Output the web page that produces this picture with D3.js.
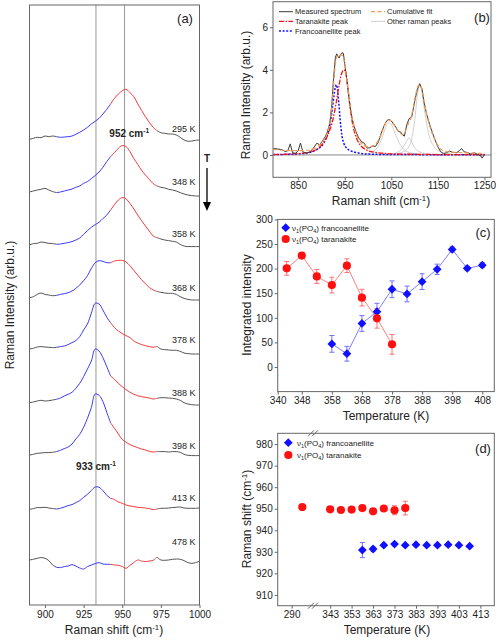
<!DOCTYPE html>
<html>
<head>
<meta charset="utf-8">
<script src="https://cdn.jsdelivr.net/npm/d3@7"></script>
<style>
  body { margin: 0; background: #fff; }
  svg text { font-family: "Liberation Sans", Arial, sans-serif; fill: #222; }
</style>
</head>
<body>
<div id="vis"></div>
<script>
// ---------- panel (a): stacked spectra ----------
const shiftA = [890,892.5,895,897.5,900,902.5,905,907.5,910,912.5,915,917.5,920,922.5,925,927.5,930,932.5,935,937.5,
  940,942.5,945,947.5,950,952.5,955,957.5,960,962.5,965,967.5,970,972.5,975,977.5,980,982.5,985,987.5,990,992.5,995,997.5,1000];
const spec295 = [0.7,1.7,2.7,2.3,4,3.3,4,3.3,2.7,3,3.3,4,5.7,7.7,10,12.7,16,18.7,21.7,26,30.7,36,41.7,46,49.3,50.7,47.3,43.3,36.3,29.7,23.3,17.7,12.7,9.3,7.3,6.7,6,6,5,2.7,0,-1.3,-1,-0.3,0];
const spec348 = [1.3,2.3,3.3,4,5,3.3,1.7,0.7,1.3,2.3,3.3,4.3,6,7.3,10,11.7,14.7,17.7,21.3,26,31.7,36.7,40.7,45,47.7,46.7,41.7,34.7,29,23,18.3,14,9.7,7.3,6,5.3,4,3.3,2.3,0.7,-0.7,-1.7,-2.3,-2.7,-2.7];
const spec358 = [-0.7,0.7,1,2.3,1.7,1,0.7,0,0.3,1,1.7,2.7,4.3,6.3,10,13.7,17,19.7,22,25.7,29.3,34.3,39.7,44.3,46.7,45.3,41,35.3,29.3,23.7,18.3,13.3,8.3,6.7,5.3,4.3,3.7,3,2.3,0,-1.7,-2.3,-2.3,-2.3,-2.3];
const spec368 = [-1,0,2.3,3.7,2.3,1.7,1,1.3,2.3,3,4,5.7,8.3,11.7,16,21,28.3,34,36,35.3,34,34,35.7,36.3,36.3,34.7,31,26.3,21.7,17,13,9.3,6.7,5.3,4.3,3.7,3.3,3.3,2.3,0,-1.7,-2.7,-3.3,-3.3,-3.3];
const spec378 = [-0.7,0,1.3,1.7,1.3,1,0.7,1,1.7,2.3,3.7,5.7,7.7,11.7,18.3,24.3,35,45,44.3,38.3,31,25.7,20.7,17.3,14.7,12.7,10.7,7.3,5.3,3.7,2.7,1.7,1,2,-0.7,-1.3,-1.7,-2,-2,-3,-4.7,-5.3,-5.7,-5.7,-5.7];
const spec388 = [-1.7,-1,0,0.7,0,0.3,1,1.7,3,5,6.7,8.7,12.7,17.7,24.3,32,40,52,50,43.3,34.3,25,21.7,17.7,14.3,11.3,8.7,6.7,5.3,4.3,3.7,3,2,2.7,3.3,3.3,3,2.7,2,0.7,-1.7,-3,-3.7,-4,-4];
const spec398 = [-1.7,-1,0,0.3,0.7,0.7,1,1.7,3,4.7,6.3,9.3,14.3,19,26,35,45.7,59.3,58,51.7,41,30.3,25,19.3,14,11,8.7,7,5.7,4.3,3.3,2,1.3,1.7,1.7,1.7,1.3,1.7,1.7,1,-1,-2,-2.3,-2.3,-2.3];
const spec413 = [-1,-0.3,0.7,0.7,1,0.3,-0.3,-0.7,0,1.3,2.7,3.7,5.7,7.7,11,14,17.7,21.3,21,17.7,13,10,8.7,6.3,5,3.3,2.3,1.7,1,0.7,0.3,-0.3,-1.3,-0.7,0,0,0.3,0.7,1,1.3,0.3,0,0,0,0.3];
const spec478 = [3.3,4,5,5.7,5,2.7,-1.7,-4,-4.3,-3.3,-2.7,-1.3,-2.7,-4.7,-5.7,-3.3,-1.7,-0.3,0.7,-0.7,-1,-1,-1.7,-2,-3.3,-5,-2,0.7,3.3,2.3,1.7,2.3,3,6.3,3.3,3,3.3,4,4.3,4,2.7,0.7,0,0.7,2];
const tempLabelsA = ["295 K","348 K","358 K","368 K","378 K","388 K","398 K","413 K","478 K"];
const offsetsA = [465, 411.7, 360.7, 308.3, 256.7, 204, 151.7, 96.7, 41.7];
const labelLevelA = [475.7, 423.3, 371, 317.3, 265, 212.3, 159, 106.7, 63.3];
const peakLinesA = [933, 951.5];
const segBreaksA = [890, 907.5, 942.5, 972.5, 1000];

// ---------- panel (b): fitted spectrum ----------
const measuredB = [[797,0.31],[805,0.28],[815,0.25],[822,0.16],[828,0.2],[833,0.52],[838,0.1],[845,0.08],[850,0.2],[855,0.56],
  [860,0.15],[868,0.08],[875,0.14],[882,0.3],[890,0.55],[896,0.48],[902,0.65],[908,0.85],[913,1.1],[918,1.5],[922,2.3],[926,3.6],
  [930,4.6],[933,4.75],[936,4.62],[938,4.55],[941,4.72],[944,4.8],[947,4.78],[950,4.3],[954,3.6],[958,2.9],[962,2.2],[966,1.7],
  [970,1.35],[975,1.05],[980,0.8],[986,0.63],[992,0.55],[998,0.32],[1004,0.34],[1010,0.42],[1016,0.4],[1022,0.6],[1028,1.0],
  [1034,1.35],[1040,1.6],[1045,1.68],[1050,1.6],[1055,1.45],[1060,1.3],[1065,1.1],[1070,1.08],[1074,0.95],[1078,0.88],[1083,1.4],
  [1088,1.7],[1094,1.8],[1100,2.5],[1106,3.1],[1111,3.35],[1116,3.1],[1120,2.5],[1126,1.9],[1132,1.45],[1138,1.05],[1144,0.7],
  [1150,0.38],[1156,0.15],[1162,0.06],[1168,0.1],[1175,0.18],[1182,0.12],[1190,0.1],[1197,0.22],[1201,0.3],[1206,0.15],[1212,0.12],
  [1220,0.05],[1228,0.1],[1236,0.02],[1242,-0.05],[1245,-0.15],[1250,0.02]];
const cumulativeB = [[797,0.26],[820,0.22],[850,0.2],[870,0.22],[885,0.3],[895,0.45],[905,0.7],[912,1.0],[918,1.5],[922,2.2],[926,3.3],
  [930,4.3],[934,4.65],[938,4.6],[942,4.7],[946,4.65],[950,4.25],[954,3.6],[958,2.9],[962,2.25],[966,1.7],[970,1.3],[975,0.95],[980,0.72],
  [986,0.55],[992,0.45],[1000,0.38],[1010,0.42],[1020,0.6],[1028,0.95],[1034,1.3],[1040,1.58],[1045,1.65],[1050,1.58],[1056,1.4],
  [1062,1.2],[1068,1.05],[1074,0.95],[1080,1.1],[1086,1.45],[1092,1.75],[1098,2.3],[1104,3.0],[1110,3.3],[1114,3.2],[1120,2.55],
  [1126,1.9],[1132,1.4],[1138,1.0],[1144,0.7],[1150,0.45],[1158,0.25],[1170,0.15],[1190,0.12],[1210,0.1],[1230,0.08],[1250,0.06]];
const taranakiteB = [[797,0.02],[830,0.04],[860,0.08],[880,0.17],[895,0.35],[905,0.6],[915,1.0],[925,1.7],[932,2.5],[938,3.3],[943,3.8],
  [948,4.0],[952,3.9],[956,3.3],[960,2.5],[965,1.7],[970,1.15],[976,0.75],[984,0.45],[995,0.25],[1010,0.14],[1040,0.07],[1080,0.04],
  [1150,0.02],[1250,0.01]];
const francoanelliteB = [[797,0.02],[850,0.05],[880,0.15],[895,0.32],[905,0.55],[912,0.9],[918,1.4],[923,2.1],[927,2.8],[930,3.2],
  [932,3.3],[934,3.15],[937,2.5],[940,1.7],[944,0.9],[948,0.55],[954,0.32],[962,0.2],[972,0.13],[985,0.07],[1000,0.04],[1050,0.02],[1250,0.01]];
const otherPeakB1 = [[990,0.03],[1010,0.15],[1020,0.35],[1030,0.8],[1038,1.3],[1045,1.5],[1052,1.35],[1060,0.9],[1070,0.45],[1080,0.2],[1095,0.08],[1120,0.03]];
const otherPeakB2 = [[1050,0.05],[1065,0.15],[1075,0.35],[1082,0.62],[1088,0.8],[1094,0.6],[1100,0.35],[1110,0.15],[1130,0.05]];
const otherPeakB3 = [[1060,0.05],[1080,0.2],[1092,0.6],[1100,1.6],[1106,2.8],[1111,3.25],[1116,2.9],[1122,2.0],[1130,1.0],[1140,0.45],[1155,0.15],[1180,0.05]];
const legendB = ["Measured spectrum","Taranakite peak","Francoanellite peak","Cumulative fit","Other raman peaks"];

// ---------- panel (c): integrated intensity ----------
const tempC_fr = [358,363,368,373,378,383,388,393,398,403,408];
const intC_fr  = [47,27,88.5,112.5,158,148.5,173.5,198.5,239,200.5,207];
const errC_fr  = [17,15,16,17,17,16,16,10.5,5,4,5];
const tempC_ta = [343,348,353,358,363,368,373,378];
const intC_ta  = [200.5,226.5,184,166.5,206,141,99,46];
const errC_ta  = [14,3,14,16,14,17,20,20];

// ---------- panel (d): peak position ----------
const tempD_fr  = [358,363,368,373,378,383,388,393,398,403,408];
const shiftD_fr = [930.8,931.3,933.1,933.6,933.1,933.3,933.1,933.1,933.3,933.1,932.6];
const errD_fr   = [3.5,1,0.5,0.5,0.5,0.5,0.5,0.5,0.5,0.5,0.5];
const tempD_ta  = [295,343,348,353,358,363,368,373,378];
const shiftD_ta = [950.8,949.7,949.4,949.6,950.3,948.8,950.1,949.3,950.3];
const errD_ta   = [0.5,0.5,0.5,0.5,0.5,0.5,0.5,2.1,3.2];

const BLUE = "#1010ff", RED = "#ff1010";
const svg = d3.select("#vis").append("svg").attr("width", 500).attr("height", 641);

function frame(x0, y0, x1, y1) {
  svg.append("rect").attr("x", x0).attr("y", y0).attr("width", x1 - x0).attr("height", y1 - y0)
    .attr("fill", "none").attr("stroke", "#666").attr("stroke-width", 1);
}
function styleAxis(g, fs) {
  g.select(".domain").remove();
  g.selectAll(".tick line").attr("stroke", "#666");
  g.selectAll(".tick text").attr("font-size", fs).attr("fill", "#222")
    .attr("font-family", "Liberation Sans, Arial, sans-serif");
}
// text with a superscript part
function supText(sel, before, sup, after) {
  sel.append("tspan").text(before);
  sel.append("tspan").attr("dy", -4).attr("font-size", "0.65em").text(sup);
  sel.append("tspan").attr("dy", 4).text(after);
  return sel;
}
function nuLabel(g, x, y, name) {
  const t = g.append("text").attr("x", x).attr("y", y).attr("font-size", 8).attr("dy", "0.35em");
  t.append("tspan").text("\u03bd");
  t.append("tspan").attr("font-size", 5.5).attr("dy", 2).text("1");
  t.append("tspan").attr("dy", -2).text("(PO");
  t.append("tspan").attr("font-size", 5.5).attr("dy", 2).text("4");
  t.append("tspan").attr("dy", -2).text(") " + name);
}
const diamond = "M0,-4.4L4.4,0L0,4.4L-4.4,0Z";
const fmt = d3.format("d");

// ===== panel (a) =====
const xA = d3.scaleLinear().domain([890, 1000]).range([29.5, 199.5]);
const yA = d3.scaleLinear().domain([0, 600]).range([605, 5]);
const gA = svg.append("g");
gA.selectAll("line.vl").data(peakLinesA).join("line")
  .attr("x1", d => xA(d)).attr("x2", d => xA(d)).attr("y1", yA(600)).attr("y2", yA(0))
  .attr("stroke", "#999").attr("stroke-width", 1);

const spectraA = [spec295, spec348, spec358, spec368, spec378, spec388, spec398, spec413, spec478];
const segColors = ["#555", "#3a3af5", "#f53a3a", "#555"];
const lineA = d3.line().curve(d3.curveCatmullRom.alpha(0.5));
spectraA.forEach((spec, i) => {
  for (let s = 0; s < 4; s++) {
    const pts = shiftA.map((x, j) => [x, spec[j]])
      .filter(p => p[0] >= segBreaksA[s] && p[0] <= segBreaksA[s + 1])
      .map(p => [xA(p[0]), yA(p[1] + offsetsA[i])]);
    gA.append("path").attr("d", lineA(pts)).attr("fill", "none")
      .attr("stroke", segColors[s]).attr("stroke-width", 1);
  }
  gA.append("text").attr("x", xA(1000) - 4).attr("y", yA(labelLevelA[i])).attr("dy", "0.35em")
    .attr("text-anchor", "end").attr("font-size", 9).attr("fill", "#333").text(tempLabelsA[i]);
});
frame(29.5, 5, 199.5, 605);
const axA = gA.append("g").attr("transform", "translate(0,605)")
  .call(d3.axisBottom(xA).tickValues([900, 925, 950, 975, 1000]).tickFormat(fmt).tickSize(3).tickSizeOuter(0).tickPadding(3));
styleAxis(axA, 10);
supText(gA.append("text").attr("x", 114).attr("y", 634).attr("text-anchor", "middle").attr("font-size", 12),
  "Raman shift (cm", "-1", ")");
gA.append("text").attr("transform", "translate(10,305) rotate(-90)").attr("text-anchor", "middle")
  .attr("dy", "0.35em").attr("font-size", 12).text("Raman Intensity (arb.u.)");
supText(gA.append("text").attr("x", xA(954.5)).attr("y", yA(472)).attr("dy", "0.35em")
  .attr("text-anchor", "middle").attr("font-size", 10).attr("font-weight", "bold"), "952 cm", "-1", "");
supText(gA.append("text").attr("x", xA(933)).attr("y", yA(138.5)).attr("dy", "0.35em")
  .attr("text-anchor", "middle").attr("font-size", 10).attr("font-weight", "bold"), "933 cm", "-1", "");
gA.append("text").attr("x", 185).attr("y", 18).attr("dy", "0.35em").attr("text-anchor", "middle")
  .attr("font-size", 13).text("(a)");
// temperature arrow
gA.append("text").attr("x", 207).attr("y", 158).attr("dy", "0.35em").attr("text-anchor", "middle")
  .attr("font-size", 10).attr("font-weight", "bold").text("T");
gA.append("line").attr("x1", 207).attr("x2", 207).attr("y1", 168).attr("y2", 203)
  .attr("stroke", "#000").attr("stroke-width", 1.3);
gA.append("path").attr("d", "M203,202L211,202L207,211Z").attr("fill", "#000");

// ===== panel (b) =====
const xB = d3.scaleLinear().domain([796, 1264]).range([273, 491]);
const yB = d3.scaleLinear().domain([-1.05, 7.2]).range([177.3, 1.7]);
const gB = svg.append("g");
const lineB = d3.line().x(d => xB(d[0])).y(d => yB(d[1])).curve(d3.curveMonotoneX);
const lineBlin = d3.line().x(d => xB(d[0])).y(d => yB(d[1]));
gB.append("line").attr("x1", xB(796)).attr("x2", xB(1264)).attr("y1", yB(0)).attr("y2", yB(0))
  .attr("stroke", "#888").attr("stroke-width", 1);
[otherPeakB1, otherPeakB2, otherPeakB3].forEach(p => {
  gB.append("path").attr("d", lineB(p)).attr("fill", "none").attr("stroke", "#c4c4c4").attr("stroke-width", 0.8);
});
gB.append("path").attr("d", lineB(francoanelliteB)).attr("fill", "none").attr("stroke", BLUE)
  .attr("stroke-width", 1.5).attr("stroke-dasharray", "2,1.6");
gB.append("path").attr("d", lineB(taranakiteB)).attr("fill", "none").attr("stroke", RED)
  .attr("stroke-width", 1.3).attr("stroke-dasharray", "5,1.5,1.5,1.5");
gB.append("path").attr("d", lineBlin(measuredB)).attr("fill", "none").attr("stroke", "#3a3a3a").attr("stroke-width", 1);
gB.append("path").attr("d", lineB(cumulativeB)).attr("fill", "none").attr("stroke", "#f39a4c")
  .attr("stroke-width", 1.2).attr("stroke-dasharray", "4,2.5");
frame(273, 1.7, 491, 177.3);
const axBx = gB.append("g").attr("transform", "translate(0,177.3)")
  .call(d3.axisBottom(xB).tickValues([850, 950, 1050, 1150, 1250]).tickFormat(fmt).tickSize(3).tickSizeOuter(0).tickPadding(2));
styleAxis(axBx, 10);
const axBy = gB.append("g").attr("transform", "translate(273,0)")
  .call(d3.axisLeft(yB).tickValues([0, 2, 4, 6]).tickSize(3).tickSizeOuter(0).tickPadding(2));
styleAxis(axBy, 10);
supText(gB.append("text").attr("x", 381).attr("y", 205).attr("text-anchor", "middle").attr("font-size", 12),
  "Raman shift (cm", "-1", ")");
gB.append("text").attr("transform", "translate(246,95) rotate(-90)").attr("text-anchor", "middle")
  .attr("dy", "0.35em").attr("font-size", 12).text("Raman Intensity (arb.u.)");
gB.append("text").attr("x", 482).attr("y", 17).attr("dy", "0.35em").attr("text-anchor", "middle")
  .attr("font-size", 13).text("(b)");
const legStyles = [
  { c: "#3a3a3a", d: null, w: 1 }, { c: RED, d: "5,1.5,1.5,1.5", w: 1.3 }, { c: BLUE, d: "2,1.6", w: 1.5 },
  { c: "#f39a4c", d: "4,2.5", w: 1.2 }, { c: "#c4c4c4", d: null, w: 0.8 }];
legendB.forEach((name, i) => {
  const col = i < 3 ? 0 : 1, row = i < 3 ? i : i - 3;
  const lx = col ? 371 : 279, ly = 11.7 + row * 9.7;
  gB.append("line").attr("x1", lx).attr("x2", lx + 14).attr("y1", ly).attr("y2", ly)
    .attr("stroke", legStyles[i].c).attr("stroke-width", legStyles[i].w)
    .attr("stroke-dasharray", legStyles[i].d);
  gB.append("text").attr("x", lx + 16).attr("y", ly).attr("dy", "0.35em").attr("font-size", 7.5).text(name);
});

// ===== panel (c) =====
const xC = d3.scaleLinear().domain([340, 412]).range([277.7, 494.3]);
const yC = d3.scaleLinear().domain([-50, 300]).range([391.6, 219.4]);
const gC = svg.append("g");
function errBars(g, xs, ys, es, x, y, color) {
  xs.forEach((t, i) => {
    const cx = x(t), y1 = y(ys[i] - es[i]), y2 = y(ys[i] + es[i]);
    g.append("line").attr("x1", cx).attr("x2", cx).attr("y1", y1).attr("y2", y2).attr("stroke", color).attr("stroke-width", 1);
    [y1, y2].forEach(yy => g.append("line").attr("x1", cx - 2.5).attr("x2", cx + 2.5).attr("y1", yy).attr("y2", yy)
      .attr("stroke", color).attr("stroke-width", 1));
  });
}
const lineC = d3.line();
gC.append("path").attr("d", lineC(tempC_fr.map((t, i) => [xC(t), yC(intC_fr[i])])))
  .attr("fill", "none").attr("stroke", "#8080ff").attr("stroke-width", 1);
gC.append("path").attr("d", lineC(tempC_ta.map((t, i) => [xC(t), yC(intC_ta[i])])))
  .attr("fill", "none").attr("stroke", "#ff8080").attr("stroke-width", 1);
errBars(gC, tempC_fr, intC_fr, errC_fr, xC, yC, "#7070ff");
errBars(gC, tempC_ta, intC_ta, errC_ta, xC, yC, "#ff7070");
gC.selectAll("path.fr").data(tempC_fr).join("path").attr("class", "fr")
  .attr("transform", (t, i) => `translate(${xC(t)},${yC(intC_fr[i])})`).attr("d", diamond).attr("fill", BLUE);
gC.selectAll("circle.ta").data(tempC_ta).join("circle").attr("class", "ta")
  .attr("cx", t => xC(t)).attr("cy", (t, i) => yC(intC_ta[i])).attr("r", 4.1).attr("fill", RED);
frame(277.7, 219.4, 494.3, 391.6);
const axCx = gC.append("g").attr("transform", "translate(0,391.6)")
  .call(d3.axisBottom(xC).tickValues([340, 348, 358, 368, 378, 388, 398, 408]).tickSize(3).tickSizeOuter(0).tickPadding(2));
styleAxis(axCx, 10);
const axCy = gC.append("g").attr("transform", "translate(277.7,0)")
  .call(d3.axisLeft(yC).tickValues([0, 50, 100, 150, 200, 250, 300]).tickSize(3).tickSizeOuter(0).tickPadding(2));
styleAxis(axCy, 10);
gC.append("text").attr("x", 386).attr("y", 420).attr("text-anchor", "middle").attr("font-size", 12).text("Temperature (K)");
gC.append("text").attr("transform", "translate(247,305) rotate(-90)").attr("text-anchor", "middle")
  .attr("dy", "0.35em").attr("font-size", 12).text("Integrated intensity");
gC.append("text").attr("x", 483).attr("y", 232).attr("dy", "0.35em").attr("text-anchor", "middle")
  .attr("font-size", 13).text("(c)");
gC.append("path").attr("transform", "translate(285.7,227.7)").attr("d", diamond).attr("fill", BLUE);
gC.append("circle").attr("cx", 285.7).attr("cy", 239).attr("r", 4.1).attr("fill", RED);
nuLabel(gC, 292, 227.7, "francoanellite");
nuLabel(gC, 292, 239, "taranakite");

// ===== panel (d) =====
const xD = d3.scaleLinear().domain([283.5, 300, 335, 419.5]).range([277.7, 313, 313, 494.3]);
const yD = d3.scaleLinear().domain([905, 985]).range([605.7, 433.3]);
const gD = svg.append("g");
errBars(gD, tempD_fr, shiftD_fr, errD_fr, xD, yD, "#7070ff");
errBars(gD, tempD_ta, shiftD_ta, errD_ta, xD, yD, "#ff7070");
gD.selectAll("path.fr").data(tempD_fr).join("path").attr("class", "fr")
  .attr("transform", (t, i) => `translate(${xD(t)},${yD(shiftD_fr[i])})`).attr("d", diamond).attr("fill", BLUE);
gD.selectAll("circle.ta").data(tempD_ta).join("circle").attr("class", "ta")
  .attr("cx", t => xD(t)).attr("cy", (t, i) => yD(shiftD_ta[i])).attr("r", 4.1).attr("fill", RED);
frame(277.7, 433.3, 494.3, 605.7);
// axis break marks
[433.3, 605.7].forEach(yy => {
  gD.append("rect").attr("x", 310).attr("y", yy - 2).attr("width", 6).attr("height", 4).attr("fill", "#fff");
  [-2, 2].forEach(dx => gD.append("line").attr("x1", 313 + dx - 3).attr("x2", 313 + dx + 3)
    .attr("y1", yy + 3).attr("y2", yy - 3).attr("stroke", "#666").attr("stroke-width", 1));
});
const axDx = gD.append("g").attr("transform", "translate(0,605.7)")
  .call(d3.axisBottom(xD).tickValues([290, 343, 353, 363, 373, 383, 393, 403, 413]).tickSize(3).tickSizeOuter(0).tickPadding(2));
styleAxis(axDx, 10);
const axDy = gD.append("g").attr("transform", "translate(277.7,0)")
  .call(d3.axisLeft(yD).tickValues([910, 920, 930, 940, 950, 960, 970, 980]).tickSize(3).tickSizeOuter(0).tickPadding(2));
styleAxis(axDy, 10);
gD.append("text").attr("x", 387).attr("y", 634).attr("text-anchor", "middle").attr("font-size", 12).text("Temperature (K)");
supText(gD.append("text").attr("transform", "translate(247,519) rotate(-90)").attr("text-anchor", "middle")
  .attr("dy", "0.35em").attr("font-size", 12), "Raman shift (cm", "-1", ")");
gD.append("text").attr("x", 483).attr("y", 448).attr("dy", "0.35em").attr("text-anchor", "middle")
  .attr("font-size", 13).text("(d)");
gD.append("path").attr("transform", "translate(288.3,442.7)").attr("d", diamond).attr("fill", BLUE);
gD.append("circle").attr("cx", 288.3).attr("cy", 455).attr("r", 4.1).attr("fill", RED);
nuLabel(gD, 297, 442.7, "francoanellite");
nuLabel(gD, 297, 455, "taranakite");
</script>
</body>
</html>
